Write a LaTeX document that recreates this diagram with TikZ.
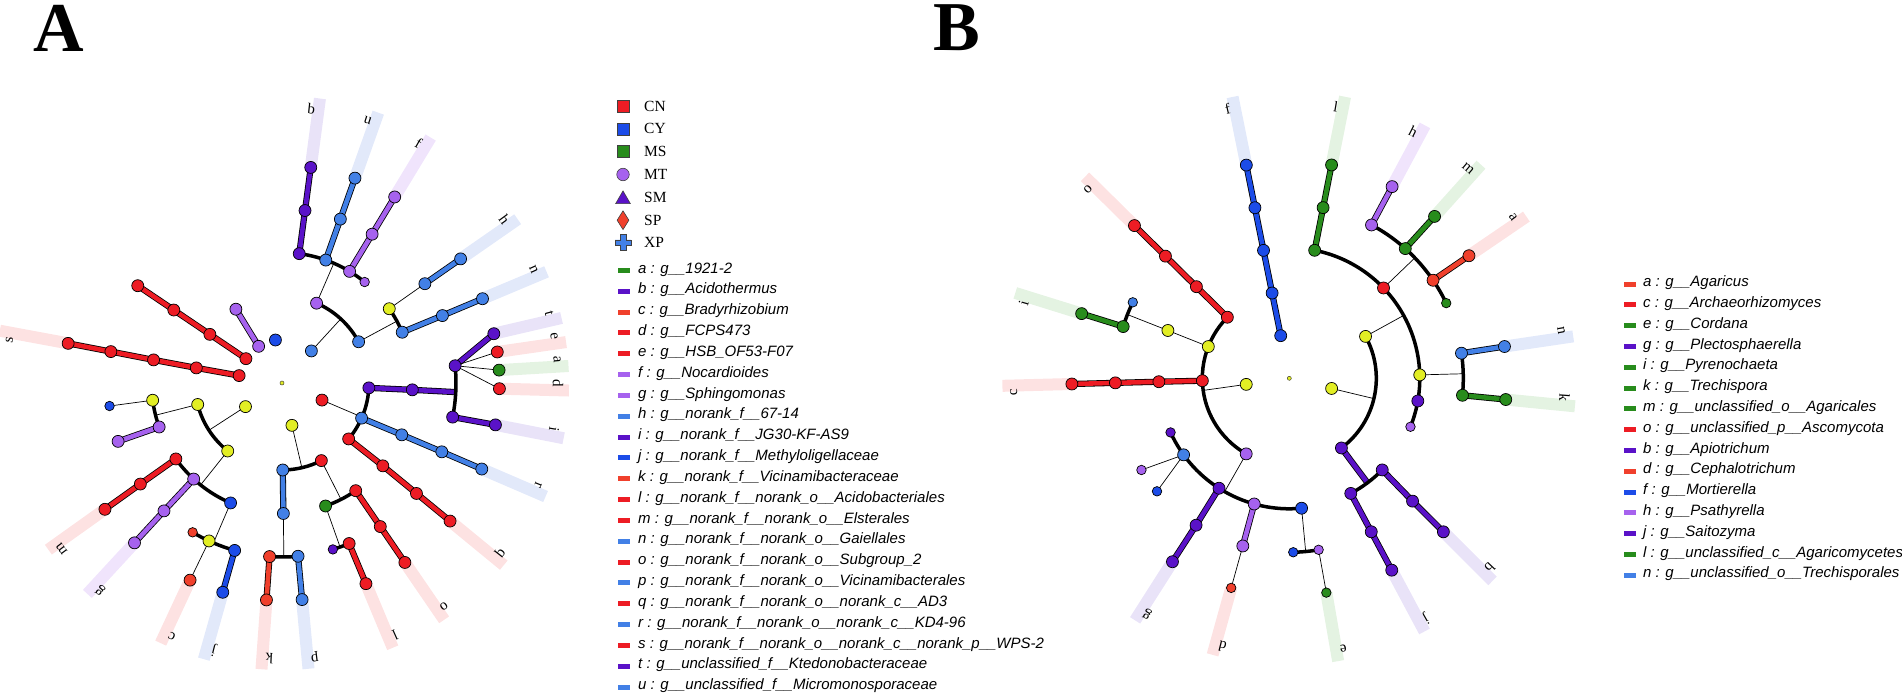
\documentclass[tikz,border=0pt]{standalone}
\usepackage{fontspec}
\setmainfont{Liberation Serif}
\setsansfont{Liberation Sans}
\usetikzlibrary{shapes.geometric}
\pgfdeclarelayer{bars}
\pgfdeclarelayer{bg}
\pgfsetlayers{bars,bg,main}
\definecolor{cCN}{RGB}{237,28,36}
\definecolor{cSP}{RGB}{240,64,44}
\definecolor{cCY}{RGB}{28,76,232}
\definecolor{cXP}{RGB}{66,128,230}
\definecolor{cMS}{RGB}{40,140,28}
\definecolor{cMT}{RGB}{166,98,238}
\definecolor{cSM}{RGB}{90,18,200}
\definecolor{cYL}{RGB}{226,238,36}
\definecolor{lCN}{RGB}{253,226,226}
\definecolor{lXP}{RGB}{226,233,250}
\definecolor{lMS}{RGB}{228,243,226}
\definecolor{lSM}{RGB}{233,227,248}
\definecolor{lMT}{RGB}{240,228,252}
\tikzset{
  cnode/.style={circle, draw=black, line width=0.7pt, minimum size=12pt, inner sep=0pt},
  sdot/.style={cnode, minimum size=9.5pt},
  brl/.style={draw=black, line width=0.8pt, double=#1, double distance=4.6pt},
  arcln/.style={draw=black, line width=3.5pt},
  thinln/.style={draw=black, line width=0.7pt},
  barln/.style={draw=#1, line width=12pt},
  lab/.style={font=\fontsize{15}{15}\selectfont, inner sep=0pt},
  legt/.style={font=\fontsize{15.5}{15.5}\selectfont, anchor=west, inner sep=0pt},
  legi/.style={font=\sffamily\itshape\fontsize{15}{15}\selectfont, anchor=west, inner sep=0pt, text height=11pt, text depth=3pt},
  legm/.style={fill=#1, draw=none, minimum width=12pt, minimum height=5pt, inner sep=0pt},
  cdot/.style={circle, draw=black!70!olive, fill=cYL, minimum size=4pt, inner sep=0pt, line width=0.5pt},
  keyb/.style={draw=black!75, line width=0.6pt, fill=#1, inner sep=0pt},
  panel/.style={font=\bfseries\fontsize{70}{70}\selectfont, inner sep=0pt},
}
\newcommand\mkn[5][cnode]{\node[#1, fill=#3] (#2) at (#4:#5) {};}
\newcommand\lbar[5]{%
  \begin{pgfonlayer}{bars}\draw[barln=#3] (#5.center) -- (#2:287);\end{pgfonlayer}%
  \node[lab, rotate={#2-88.5}] (#1) at ({#2+1.5}:276) {#4};}
\begin{document}
\begin{tikzpicture}[x=1pt,y=1pt]
\useasboundingbox (0,0) rectangle (1902,-696);
\node[panel] (LA) at (59,-28) {A};
\node[panel] (LB) at (956.5,-28) {B};

% ================= Panel A =================
\begin{scope}[shift={(282,-383)}]
\node[cdot] (ac) at (0,0) {};
% top group
\mkn{ab3}{cSM}{82.4}{130.5}\mkn{ab4}{cSM}{82.4}{174}\mkn{ab5}{cSM}{82.4}{217.5}
\mkn{au3}{cXP}{70.4}{130.5}\mkn{au4}{cXP}{70.4}{174}\mkn{au5}{cXP}{70.4}{217.5}
\mkn{af3}{cMT}{58.8}{130.5}\mkn{af4}{cMT}{58.8}{174}\mkn{af5}{cMT}{58.8}{217.5}
\mkn[sdot]{ax3}{cMT}{50.7}{130.5}
\mkn{ay2}{cMT}{66.6}{87}
\mkn{aw2}{cXP}{28.3}{87}
\mkn{av1}{cXP}{47.5}{43.5}
\mkn{ah3}{cYL}{34.7}{130.5}\mkn{ah4}{cXP}{34.8}{174}\mkn{ah5}{cXP}{34.8}{217.5}
\mkn{an3}{cXP}{22.9}{130.5}\mkn{an4}{cXP}{22.8}{174}\mkn{an5}{cXP}{22.8}{217.5}
% right group
\mkn{ap2}{cSM}{-3.2}{87}\mkn{ap3}{cSM}{-3}{130.5}
\mkn{ahub}{cSM}{5.7}{174}\mkn{aib}{cSM}{-11.3}{174}
\mkn{at5}{cSM}{13.1}{217.5}\mkn{ae5}{cCN}{8.2}{217.5}\mkn{aa5}{cMS}{3.4}{217.5}
\mkn{ad5}{cCN}{-1.5}{217.5}\mkn{ai5}{cSM}{-11.1}{217.5}
\mkn{ar2}{cXP}{-23.8}{87}\mkn{ar3}{cXP}{-23.4}{130.5}\mkn{ar4}{cXP}{-23.3}{174}\mkn{ar5}{cXP}{-23.3}{217.5}
\mkn{aq2}{cCN}{-40}{87}\mkn{aq3}{cCN}{-39.4}{130.5}\mkn{aq4}{cCN}{-39.4}{174}\mkn{aq5}{cCN}{-39.4}{217.5}
\mkn{am1}{cCN}{-23.1}{43.5}
% bottom group
\mkn{ayb1}{cYL}{-76.8}{43.5}
\mkn{apb2}{cXP}{-89.5}{87}\mkn{ao2}{cCN}{-63.1}{87}
\mkn{apb3}{cXP}{-89.4}{130.5}
\mkn{ak4}{cSP}{-94.1}{174}\mkn{ak5}{cSP}{-94.1}{217.5}
\mkn{app4}{cXP}{-84.7}{174}\mkn{app5}{cXP}{-84.7}{217.5}
\mkn{ag3}{cMS}{-70.5}{130.5}
\mkn{ao3}{cCN}{-55.6}{130.5}\mkn{ao4}{cCN}{-55.6}{174}\mkn{ao5}{cCN}{-55.6}{217.5}
\mkn[sdot]{al4x}{cSM}{-73}{174}
\mkn{al4}{cCN}{-67.3}{174}\mkn{al5}{cCN}{-67.3}{217.5}
% lower-left group
\mkn{ayl1}{cYL}{212.9}{43.5}
\mkn{ayl2a}{cYL}{194.3}{87}\mkn{ayl2b}{cYL}{231.4}{87}
\mkn{ayl3}{cYL}{187.6}{130.5}\mkn{amt3}{cMT}{199.7}{130.5}
\mkn[sdot]{abl4}{cCY}{187.6}{174}\mkn{amt4}{cMT}{199.6}{174}
\mkn{am3}{cCN}{215.6}{130.5}\mkn{am4}{cCN}{215.5}{174}\mkn{am5}{cCN}{215.5}{217.5}
\mkn{ag3l}{cMT}{227.4}{130.5}\mkn{ag4}{cMT}{227.3}{174}\mkn{ag5}{cMT}{227.3}{217.5}
\mkn{abj3}{cCY}{246.8}{130.5}
\mkn[sdot]{ac4x}{cSP}{239.1}{174}\mkn{ayc4}{cYL}{245.2}{174}
\mkn{aj4}{cCY}{254.2}{174}\mkn{aj5}{cCY}{254.2}{217.5}
\mkn{ac5}{cSP}{245}{217.5}
% upper-left group
\mkn{as1}{cCN}{170.2}{43.5}\mkn{as2}{cCN}{170}{87}\mkn{as3}{cCN}{169.8}{130.5}\mkn{as4}{cCN}{169.6}{174}\mkn{as5}{cCN}{169.5}{217.5}
\mkn{aru1}{cCN}{146}{43.5}\mkn{aru2}{cCN}{146}{87}\mkn{aru3}{cCN}{146}{130.5}\mkn{aru4}{cCN}{146}{174}
\mkn{alv1}{cMT}{122.5}{43.5}\mkn{alv2}{cMT}{122}{87}
\mkn{abx1}{cCY}{98.7}{43.5}

\begin{pgfonlayer}{bg}
\coordinate (jA1) at (66.6:130.5);
\coordinate (jA2) at (47.5:87);
\coordinate (jA3) at (28.3:130.5);
\coordinate (jA4) at (-3:174);
\coordinate (jA5) at (-23.1:87);
\coordinate (jA6) at (-76.8:87);
\coordinate (jA7) at (-89.4:174);
\coordinate (jA8) at (-63.1:130.5);
\coordinate (jA9) at (-70.5:174);
\coordinate (jA10) at (212.9:87);
\coordinate (jA11) at (194.3:130.5);
\coordinate (jA12) at (231.4:130.5);
\coordinate (jA13) at (246.8:174);
\draw[brl=cSM] (ab3.center) -- (ab4.center) -- (ab5.center);
\draw[brl=cXP] (au3.center) -- (au4.center) -- (au5.center);
\draw[brl=cMT] (af3.center) -- (af4.center) -- (af5.center);
\draw[arcln] (ab3.center) arc[start angle=82.4, end angle=50.7, radius=130.5];
\draw[thinln] (ay2.center) -- (jA1);
\draw[arcln] (ay2.center) arc[start angle=66.6, end angle=28.3, radius=87];
\draw[thinln] (av1.center) -- (jA2);
\draw[arcln] (ah3.center) arc[start angle=34.7, end angle=22.9, radius=130.5];
\draw[thinln] (aw2.center) -- (jA3);
\draw[thinln] (ah3.center) -- (ah4.center);
\draw[brl=cXP] (ah4.center) -- (ah5.center);
\draw[brl=cXP] (an3.center) -- (an4.center) -- (an5.center);
\draw[brl=cSM] (ap2.center) -- (ap3.center) -- (jA4);
\draw[arcln] (ahub.center) arc[start angle=5.7, end angle=-11.3, radius=174];
\draw[brl=cSM] (ahub.center) -- (at5.center);
\draw[thinln] (ahub.center) -- (ae5.center);
\draw[thinln] (ahub.center) -- (aa5.center);
\draw[thinln] (ahub.center) -- (ad5.center);
\draw[brl=cSM] (aib.center) -- (ai5.center);
\draw[arcln] (ap2.center) arc[start angle=-3.2, end angle=-40, radius=87];
\draw[brl=cXP] (ar2.center) -- (ar3.center) -- (ar4.center) -- (ar5.center);
\draw[brl=cCN] (aq2.center) -- (aq3.center) -- (aq4.center) -- (aq5.center);
\draw[thinln] (am1.center) -- (jA5);
\draw[thinln] (ayb1.center) -- (jA6);
\draw[arcln] (apb2.center) arc[start angle=-89.5, end angle=-63.1, radius=87];
\draw[brl=cXP] (apb2.center) -- (apb3.center);
\draw[thinln] (apb3.center) -- (jA7);
\draw[arcln] (ak4.center) arc[start angle=-94.1, end angle=-84.7, radius=174];
\draw[brl=cSP] (ak4.center) -- (ak5.center);
\draw[brl=cXP] (app4.center) -- (app5.center);
\draw[thinln] (ao2.center) -- (jA8);
\draw[arcln] (ag3.center) arc[start angle=-70.5, end angle=-55.6, radius=130.5];
\draw[brl=cCN] (ao3.center) -- (ao4.center) -- (ao5.center);
\draw[thinln] (ag3.center) -- (jA9);
\draw[arcln] (al4x.center) arc[start angle=-73, end angle=-67.3, radius=174];
\draw[brl=cCN] (al4.center) -- (al5.center);
\draw[thinln] (ayl1.center) -- (jA10);
\draw[arcln] (ayl2a.center) arc[start angle=194.3, end angle=231.4, radius=87];
\draw[thinln] (ayl2a.center) -- (jA11);
\draw[arcln] (ayl3.center) arc[start angle=187.6, end angle=199.7, radius=130.5];
\draw[thinln] (ayl3.center) -- (abl4.center);
\draw[brl=cMT] (amt3.center) -- (amt4.center);
\draw[thinln] (ayl2b.center) -- (jA12);
\draw[arcln] (am3.center) arc[start angle=215.6, end angle=246.8, radius=130.5];
\draw[brl=cCN] (am3.center) -- (am4.center) -- (am5.center);
\draw[brl=cMT] (ag3l.center) -- (ag4.center) -- (ag5.center);
\draw[thinln] (abj3.center) -- (jA13);
\draw[arcln] (ac4x.center) arc[start angle=239.1, end angle=254.2, radius=174];
\draw[brl=cCY] (aj4.center) -- (aj5.center);
\draw[thinln] (ayc4.center) -- (ac5.center);
\draw[brl=cCN] (as1.center) -- (as2.center) -- (as3.center) -- (as4.center) -- (as5.center);
\draw[brl=cCN] (aru1.center) -- (aru2.center) -- (aru3.center) -- (aru4.center);
\draw[brl=cMT] (alv1.center) -- (alv2.center);
\end{pgfonlayer}

\lbar{LAb}{82.4}{lSM}{b}{ab5}
\lbar{LAu}{70.4}{lXP}{u}{au5}
\lbar{LAf}{58.8}{lMT}{f}{af5}
\lbar{LAh}{34.8}{lXP}{h}{ah5}
\lbar{LAn}{22.8}{lXP}{n}{an5}
\lbar{LAt}{13.1}{lSM}{t}{at5}
\lbar{LAe}{8.2}{lCN}{e}{ae5}
\lbar{LAa}{3.4}{lMS}{a}{aa5}
\lbar{LAd}{-1.5}{lCN}{d}{ad5}
\lbar{LAi}{-11.1}{lSM}{i}{ai5}
\lbar{LAr}{-23.3}{lXP}{r}{ar5}
\lbar{LAq}{-39.4}{lCN}{q}{aq5}
\lbar{LAo}{-55.6}{lCN}{o}{ao5}
\lbar{LAl}{-67.3}{lCN}{l}{al5}
\lbar{LAp}{-84.7}{lXP}{p}{app5}
\lbar{LAk}{-94.1}{lCN}{k}{ak5}
\lbar{LAj}{254.2}{lXP}{j}{aj5}
\lbar{LAc}{245}{lCN}{c}{ac5}
\lbar{LAg}{227.3}{lMT}{g}{ag5}
\lbar{LAm}{215.5}{lCN}{m}{am5}
\lbar{LAs}{169.5}{lCN}{s}{as5}
\end{scope}

% ================= Panel B =================
\begin{scope}[shift={(1289.3,-378.3)}]
\node[cdot] (bc) at (0,0) {};
\mkn{bo2}{cCN}{135.4}{87}\mkn{bo3}{cCN}{135.4}{130.5}\mkn{bo4}{cCN}{135.4}{174}\mkn{bo5}{cCN}{135.4}{217.5}
\mkn{bf1}{cCY}{101.4}{43.5}\mkn{bf2}{cCY}{101.4}{87}\mkn{bf3}{cCY}{101.4}{130.5}\mkn{bf4}{cCY}{101.4}{174}\mkn{bf5}{cCY}{101.4}{217.5}
\mkn{bl3}{cMS}{78.8}{130.5}\mkn{bl4}{cMS}{78.8}{174}\mkn{bl5}{cMS}{78.8}{217.5}
\mkn{bred3}{cCN}{43.8}{130.5}
\mkn{bh4}{cMT}{61.8}{174}\mkn{bh5}{cMT}{61.8}{217.5}
\mkn{bm4}{cMS}{48.2}{174}\mkn{bm5}{cMS}{48.1}{217.5}
\mkn{ba4}{cSP}{34.3}{174}\mkn{ba5}{cSP}{34.3}{217.5}
\mkn[sdot]{bgs4}{cMS}{25.6}{174}
\mkn{byr2}{cYL}{28.8}{87}
\mkn{byr1}{cYL}{-13.5}{43.5}
\mkn{byr3}{cYL}{1.5}{130.5}
\mkn{bn4}{cXP}{8.3}{174}\mkn{bn5}{cXP}{8.4}{217.5}
\mkn{bk4}{cMS}{-5.6}{174}\mkn{bk5}{cMS}{-5.6}{217.5}
\mkn{bpu3}{cSM}{-10}{130.5}
\mkn[sdot]{blv3}{cMT}{-21.8}{130.5}
\mkn{bpu2}{cSM}{-53.2}{87}
\mkn{bj3}{cSM}{-61.9}{130.5}\mkn{bj4}{cSM}{-61.9}{174}\mkn{bj5}{cSM}{-61.9}{217.5}
\mkn{bb3}{cSM}{-44.6}{130.5}\mkn{bb4}{cSM}{-44.9}{174}\mkn{bb5}{cSM}{-44.9}{217.5}
\mkn{bbl3}{cCY}{-84.6}{130.5}
\mkn[sdot]{bbl4}{cCY}{-88.7}{174}\mkn[sdot]{blv4}{cMT}{-80.3}{174}
\mkn[sdot]{be5}{cMS}{-80.2}{217.5}
\mkn{byl1}{cYL}{188}{43.5}
\mkn{byl2}{cYL}{158.6}{87}
\mkn{byl3}{cYL}{158.5}{130.5}
\mkn[sdot]{bbu4}{cXP}{154.1}{174}
\mkn{bgi4}{cMS}{162.7}{174}\mkn{bi5}{cMS}{162.7}{217.5}
\mkn{bc2}{cCN}{181.6}{87}\mkn{bc3}{cCN}{181.5}{130.5}\mkn{bc4}{cCN}{181.5}{174}\mkn{bc5}{cCN}{181.5}{217.5}
\mkn{blv2}{cMT}{240.3}{87}
\mkn[sdot]{bpu3l}{cSM}{204.5}{130.5}
\mkn{bbu3}{cXP}{215.9}{130.5}
\mkn{bg3}{cSM}{237.4}{130.5}\mkn{bg4}{cSM}{237.6}{174}\mkn{bg5}{cSM}{237.5}{217.5}
\mkn{bd3}{cMT}{254.4}{130.5}\mkn{bd4}{cMT}{254.5}{174}\mkn[sdot]{bd5}{cSP}{254.5}{217.5}
\mkn[sdot]{blv4l}{cMT}{211.8}{174}
\mkn[sdot]{bbu4l}{cCY}{220.5}{174}

\begin{pgfonlayer}{bg}
\coordinate (jB1) at (43.8:174);
\coordinate (jB2) at (28.8:130.5);
\coordinate (jB3) at (-13.5:87);
\coordinate (jB4) at (1.5:174);
\coordinate (jB5) at (-53.2:130.5);
\coordinate (jB6) at (-84.6:174);
\coordinate (jB7) at (188:87);
\coordinate (jB8) at (158.5:174);
\coordinate (jB9) at (240.3:130.5);
\draw[brl=cCN] (bo2.center) -- (bo3.center) -- (bo4.center) -- (bo5.center);
\draw[brl=cCY] (bf1.center) -- (bf2.center) -- (bf3.center) -- (bf4.center) -- (bf5.center);
\draw[brl=cMS] (bl3.center) -- (bl4.center) -- (bl5.center);
\draw[arcln] (bl3.center) arc[start angle=78.8, end angle=-21.8, radius=130.5];
\draw[thinln] (bred3.center) -- (jB1);
\draw[arcln] (bh4.center) arc[start angle=61.8, end angle=25.6, radius=174];
\draw[brl=cMT] (bh4.center) -- (bh5.center);
\draw[brl=cMS] (bm4.center) -- (bm5.center);
\draw[brl=cSP] (ba4.center) -- (ba5.center);
\draw[thinln] (byr2.center) -- (jB2);
\draw[arcln] (byr2.center) arc[start angle=28.8, end angle=-53.2, radius=87];
\draw[thinln] (byr1.center) -- (jB3);
\draw[thinln] (byr3.center) -- (jB4);
\draw[arcln] (bn4.center) arc[start angle=8.3, end angle=-5.6, radius=174];
\draw[brl=cXP] (bn4.center) -- (bn5.center);
\draw[brl=cMS] (bk4.center) -- (bk5.center);
\draw[brl=cSM] (bpu2.center) -- (jB5);
\draw[arcln] (bj3.center) arc[start angle=-61.9, end angle=-44.6, radius=130.5];
\draw[brl=cSM] (bj3.center) -- (bj4.center) -- (bj5.center);
\draw[brl=cSM] (bb3.center) -- (bb4.center) -- (bb5.center);
\draw[thinln] (bbl3.center) -- (jB6);
\draw[arcln] (bbl4.center) arc[start angle=-88.7, end angle=-80.3, radius=174];
\draw[thinln] (blv4.center) -- (be5.center);
\draw[thinln] (byl1.center) -- (jB7);
\draw[arcln] (bo2.center) arc[start angle=135.4, end angle=240.3, radius=87];
\draw[thinln] (byl2.center) -- (byl3.center);
\draw[thinln] (byl3.center) -- (jB8);
\draw[arcln] (bbu4.center) arc[start angle=154.1, end angle=162.7, radius=174];
\draw[brl=cMS] (bgi4.center) -- (bi5.center);
\draw[brl=cCN] (bc2.center) -- (bc3.center) -- (bc4.center) -- (bc5.center);
\draw[thinln] (blv2.center) -- (jB9);
\draw[arcln] (bpu3l.center) arc[start angle=204.5, end angle=275.4, radius=130.5];
\draw[brl=cSM] (bg3.center) -- (bg4.center) -- (bg5.center);
\draw[brl=cMT] (bd3.center) -- (bd4.center);
\draw[thinln] (bd4.center) -- (bd5.center);
\draw[thinln] (bbu3.center) -- (blv4l.center);
\draw[thinln] (bbu3.center) -- (bbu4l.center);
\end{pgfonlayer}

\lbar{LBo}{135.4}{lCN}{o}{bo5}
\lbar{LBf}{101.4}{lXP}{f}{bf5}
\lbar{LBl}{78.8}{lMS}{l}{bl5}
\lbar{LBh}{61.8}{lMT}{h}{bh5}
\lbar{LBm}{48.1}{lMS}{m}{bm5}
\lbar{LBa}{34.3}{lCN}{a}{ba5}
\lbar{LBn}{8.4}{lXP}{n}{bn5}
\lbar{LBk}{-5.6}{lMS}{k}{bk5}
\lbar{LBb}{-44.9}{lSM}{b}{bb5}
\lbar{LBj}{-61.9}{lSM}{j}{bj5}
\lbar{LBe}{-80.2}{lMS}{e}{be5}
\lbar{LBd}{254.5}{lCN}{d}{bd5}
\lbar{LBg}{237.5}{lSM}{g}{bg5}
\lbar{LBc}{181.5}{lCN}{c}{bc5}
\lbar{LBi}{162.7}{lMS}{i}{bi5}
\end{scope}

% ================= Legend A =================
\node[keyb=cCN, rectangle, minimum size=12pt] (kCN) at (623,-106) {};
\node[keyb=cCY, rectangle, minimum size=12pt] (kCY) at (623,-128.8) {};
\node[keyb=cMS, rectangle, minimum size=12pt] (kMS) at (623,-151.6) {};
\node[keyb=cMT, circle, minimum size=12.5pt] (kMT) at (623,-174.5) {};
\node[keyb=cSM, regular polygon, regular polygon sides=3, minimum size=17pt] (kSM) at (623,-199.4) {};
\node[keyb=cSP, diamond, minimum width=12pt, minimum height=19pt] (kSP) at (623,-220.2) {};
\node[inner sep=0pt, minimum size=16pt] (kXP) at (623,-242.6) {};
\draw[keyb=cXP] (kXP.center) ++(-2.8,8) -- ++(5.6,0) -- ++(0,-5.2) -- ++(5.2,0) -- ++(0,-5.6) -- ++(-5.2,0) -- ++(0,-5.2) -- ++(-5.6,0) -- ++(0,5.2) -- ++(-5.2,0) -- ++(0,5.6) -- ++(5.2,0) -- cycle;
\node[legt] (tCN) at (644,-106) {CN};
\node[legt] (tCY) at (644,-128.8) {CY};
\node[legt] (tMS) at (644,-151.6) {MS};
\node[legt] (tMT) at (644,-174.5) {MT};
\node[legt] (tSM) at (644,-197.3) {SM};
\node[legt] (tSP) at (644,-220.2) {SP};
\node[legt] (tXP) at (644,-242.6) {XP};

\foreach \i/\c/\t in {
 0/cMS/{a : g\_\_1921-2},
 1/cSM/{b : g\_\_Acidothermus},
 2/cSP/{c : g\_\_Bradyrhizobium},
 3/cCN/{d : g\_\_FCPS473},
 4/cCN/{e : g\_\_HSB\_OF53-F07},
 5/cMT/{f : g\_\_Nocardioides},
 6/cMT/{g : g\_\_Sphingomonas},
 7/cXP/{h : g\_\_norank\_f\_\_67-14},
 8/cSM/{i : g\_\_norank\_f\_\_JG30-KF-AS9},
 9/cCY/{j : g\_\_norank\_f\_\_Methyloligellaceae},
 10/cSP/{k : g\_\_norank\_f\_\_Vicinamibacteraceae},
 11/cCN/{l : g\_\_norank\_f\_\_norank\_o\_\_Acidobacteriales},
 12/cCN/{m : g\_\_norank\_f\_\_norank\_o\_\_Elsterales},
 13/cXP/{n : g\_\_norank\_f\_\_norank\_o\_\_Gaiellales},
 14/cCN/{o : g\_\_norank\_f\_\_norank\_o\_\_Subgroup\_2},
 15/cXP/{p : g\_\_norank\_f\_\_norank\_o\_\_Vicinamibacterales},
 16/cCN/{q : g\_\_norank\_f\_\_norank\_o\_\_norank\_c\_\_AD3},
 17/cXP/{r : g\_\_norank\_f\_\_norank\_o\_\_norank\_c\_\_KD4-96},
 18/cCN/{s : g\_\_norank\_f\_\_norank\_o\_\_norank\_c\_\_norank\_p\_\_WPS-2},
 19/cSM/{t : g\_\_unclassified\_f\_\_Ktedonobacteraceae},
 20/cXP/{u : g\_\_unclassified\_f\_\_Micromonosporaceae}}{
 \node[legm=\c] (mA\i) at (624,{-270.5-20.83*\i}) {};
 \node[legi] (tA\i) at (638,{-269.1-20.83*\i}) {\t};
}

% ================= Legend B =================
\foreach \i/\c/\t in {
 0/cSP/{a : g\_\_Agaricus},
 1/cCN/{c : g\_\_Archaeorhizomyces},
 2/cMS/{e : g\_\_Cordana},
 3/cSM/{g : g\_\_Plectosphaerella},
 4/cMS/{i : g\_\_Pyrenochaeta},
 5/cMS/{k : g\_\_Trechispora},
 6/cMS/{m : g\_\_unclassified\_o\_\_Agaricales},
 7/cCN/{o : g\_\_unclassified\_p\_\_Ascomycota},
 8/cSM/{b : g\_\_Apiotrichum},
 9/cSP/{d : g\_\_Cephalotrichum},
 10/cCY/{f : g\_\_Mortierella},
 11/cMT/{h : g\_\_Psathyrella},
 12/cSM/{j : g\_\_Saitozyma},
 13/cMS/{l : g\_\_unclassified\_c\_\_Agaricomycetes},
 14/cXP/{n : g\_\_unclassified\_o\_\_Trechisporales}}{
 \node[legm=\c] (mB\i) at (1630,{-284.1-20.8*\i}) {};
 \node[legi] (tB\i) at (1643,{-282.7-20.8*\i}) {\t};
}
\end{tikzpicture}
\end{document}
